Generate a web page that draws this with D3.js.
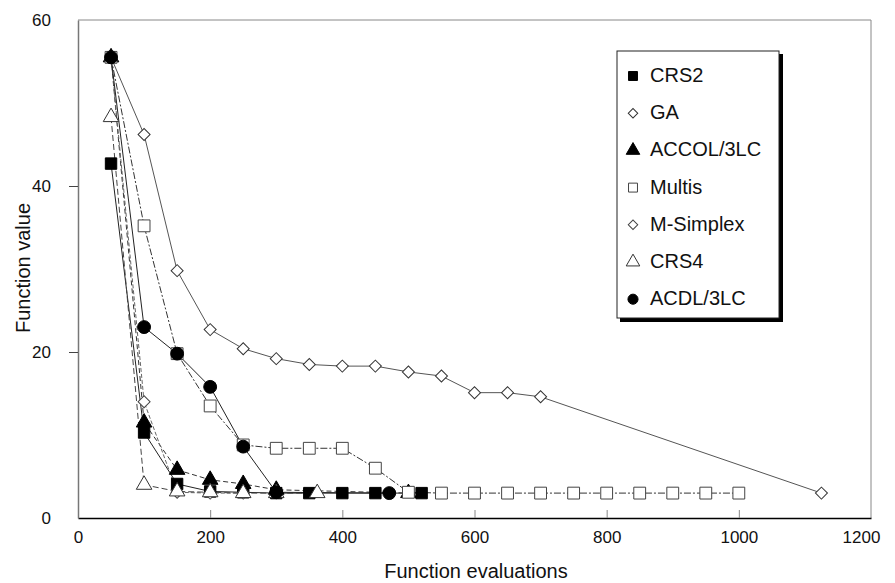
<!DOCTYPE html>
<html>
<head>
<meta charset="utf-8">
<script src="https://cdn.jsdelivr.net/npm/d3@7"></script>
<style>
  body { margin: 0; background: #fff; }
  svg text { font-family: "Liberation Sans", Arial, sans-serif; fill: #111; }
</style>
</head>
<body>
<div id="chart"></div>
<script>
// series (x = function evaluations, y = function value)
var crs2X = [50, 100, 150, 200, 250, 300, 350, 400, 450, 520];
var crs2Y = [42.7, 10.3, 4.1, 3.2, 3.1, 3.0, 3.0, 3.0, 3.0, 3.0];

var gaX = [50, 100, 150, 200, 250, 300, 350, 400, 450, 500, 550, 600, 650, 700, 1125];
var gaY = [55.5, 46.2, 29.8, 22.7, 20.4, 19.2, 18.5, 18.3, 18.3, 17.6, 17.1, 15.1, 15.1, 14.6, 3.0];

var accolX = [50, 100, 150, 200, 250, 300, 500];
var accolY = [55.5, 11.5, 5.8, 4.6, 4.1, 3.4, 3.0];

var multisX = [50, 100, 150, 200, 250, 300, 350, 400, 450, 500, 550, 600, 650, 700, 750, 800, 850, 900, 950, 1000];
var multisY = [55.5, 35.2, 19.8, 13.5, 8.8, 8.4, 8.4, 8.4, 6.0, 3.1, 3.0, 3.0, 3.0, 3.0, 3.0, 3.0, 3.0, 3.0, 3.0, 3.0];

var msimplexX = [50, 100, 150, 200, 250];
var msimplexY = [55.5, 14.0, 3.1, 3.0, 3.0];

var crs4X = [50, 100, 150, 200, 250, 300, 362];
var crs4Y = [48.3, 4.0, 3.2, 3.1, 3.0, 3.0, 3.0];

var acdlX = [50, 100, 150, 200, 250, 300, 471];
var acdlY = [55.5, 23.0, 19.8, 15.8, 8.6, 3.1, 3.0];

var xTicks = [0, 200, 400, 600, 800, 1000, 1200];
var yTicks = [0, 20, 40, 60];

var width = 895, height = 583;
var plotLeft = 78, plotRight = 871, plotTop = 20, plotBottom = 518;

var svg = d3.select("#chart").append("svg")
  .attr("width", width).attr("height", height);

var x = d3.scaleLinear().domain([0, 1200]).range([plotLeft, plotRight]);
var y = d3.scaleLinear().domain([0, 60]).range([plotBottom, plotTop]);

function zip(xs, ys) {
  return xs.map(function(v, i) { return [v, ys[i]]; });
}

// diamonds are squares turned 45 degrees (rot)
var series = [
  { name: "CRS2", pts: zip(crs2X, crs2Y), shape: d3.symbolSquare, size: 130, rot: 0, fill: "#000", stroke: "#000", line: "#222", dash: null },
  { name: "GA", pts: zip(gaX, gaY), shape: d3.symbolSquare, size: 72, rot: 45, fill: "#fff", stroke: "#333", line: "#555", dash: null },
  { name: "ACCOL/3LC", pts: zip(accolX, accolY), shape: d3.symbolTriangle, size: 105, rot: 0, fill: "#000", stroke: "#000", line: "#333", dash: "5,3" },
  { name: "Multis", pts: zip(multisX, multisY), shape: d3.symbolSquare, size: 140, rot: 0, fill: "#fff", stroke: "#444", line: "#333", dash: "7,2,2,2" },
  { name: "M-Simplex", pts: zip(msimplexX, msimplexY), shape: d3.symbolSquare, size: 72, rot: 45, fill: "#fff", stroke: "#444", line: "#666", dash: "4,2" },
  { name: "CRS4", pts: zip(crs4X, crs4Y), shape: d3.symbolTriangle, size: 105, rot: 0, fill: "#fff", stroke: "#333", line: "#444", dash: "6,3" },
  { name: "ACDL/3LC", pts: zip(acdlX, acdlY), shape: d3.symbolCircle, size: 130, rot: 0, fill: "#000", stroke: "#000", line: "#222", dash: null }
];

// frame
svg.append("line").attr("x1", plotLeft).attr("x2", plotRight).attr("y1", plotTop).attr("y2", plotTop)
  .attr("stroke", "#888").attr("stroke-width", 1);
svg.append("line").attr("x1", plotRight).attr("x2", plotRight).attr("y1", plotTop).attr("y2", plotBottom)
  .attr("stroke", "#888").attr("stroke-width", 1);

// axes
var xAxis = d3.axisBottom(x).tickValues(xTicks).tickFormat(d3.format("d"))
  .tickSizeInner(-8).tickSizeOuter(0).tickPadding(20);
var gx = svg.append("g").attr("transform", "translate(0," + plotBottom + ")").call(xAxis);
gx.select(".domain").attr("stroke", "#000").attr("stroke-width", 1.5);
gx.selectAll(".tick line").attr("stroke", "#888");
gx.selectAll(".tick text").attr("font-size", 17).attr("dy", "0.3em");
gx.selectAll(".tick").filter(function(d) { return d === 0 || d === 1200; }).select("line").remove();
gx.selectAll(".tick").filter(function(d) { return d === 1200; }).select("text").attr("dx", -10);

var yAxis = d3.axisLeft(y).tickValues(yTicks).tickFormat(d3.format("d"))
  .tickSizeInner(9).tickSizeOuter(0).tickPadding(18);
var gy = svg.append("g").attr("transform", "translate(" + plotLeft + ",0)").call(yAxis);
gy.select(".domain").attr("stroke", "#777").attr("stroke-width", 1.5);
gy.selectAll(".tick line").attr("stroke", "#444");
gy.selectAll(".tick text").attr("font-size", 17);
gy.selectAll(".tick").filter(function(d) { return d === 0 || d === 60; }).select("line").remove();

svg.append("text").attr("x", 476).attr("y", 578).attr("text-anchor", "middle")
  .attr("font-size", 20).text("Function evaluations");
svg.append("text").attr("transform", "translate(30,268) rotate(-90)").attr("text-anchor", "middle")
  .attr("font-size", 20).text("Function value");

// lines
var line = d3.line().x(function(d) { return x(d[0]); }).y(function(d) { return y(d[1]); });
var plot = svg.append("g");
series.forEach(function(s) {
  plot.append("path").datum(s.pts).attr("d", line)
    .attr("fill", "none").attr("stroke", s.line).attr("stroke-width", 1)
    .attr("stroke-dasharray", s.dash);
});

// markers
series.forEach(function(s) {
  var sym = d3.symbol().type(s.shape).size(s.size);
  plot.selectAll(null).data(s.pts).enter().append("path")
    .attr("d", sym)
    .attr("transform", function(d) {
      return "translate(" + x(d[0]) + "," + y(d[1]) + ") rotate(" + s.rot + ")";
    })
    .attr("fill", s.fill).attr("stroke", s.stroke).attr("stroke-width", 1);
});

// legend
var lg = svg.append("g").attr("transform", "translate(617,51)");
lg.append("rect").attr("x", 3).attr("y", 3).attr("width", 163).attr("height", 268).attr("fill", "#000");
lg.append("rect").attr("x", 0).attr("y", 0).attr("width", 162).attr("height", 267)
  .attr("fill", "#fff").attr("stroke", "#222").attr("stroke-width", 1);
series.forEach(function(s, i) {
  var row = lg.append("g").attr("transform", "translate(0," + (24 + i * 37.2) + ")");
  row.append("path").attr("d", d3.symbol().type(s.shape).size(s.rot ? 45 : 80)())
    .attr("transform", "translate(16,1) rotate(" + s.rot + ")")
    .attr("fill", s.fill).attr("stroke", s.stroke).attr("stroke-width", 1);
  row.append("text").attr("x", 33).attr("y", 7).attr("font-size", 20).text(s.name);
});
</script>
</body>
</html>
